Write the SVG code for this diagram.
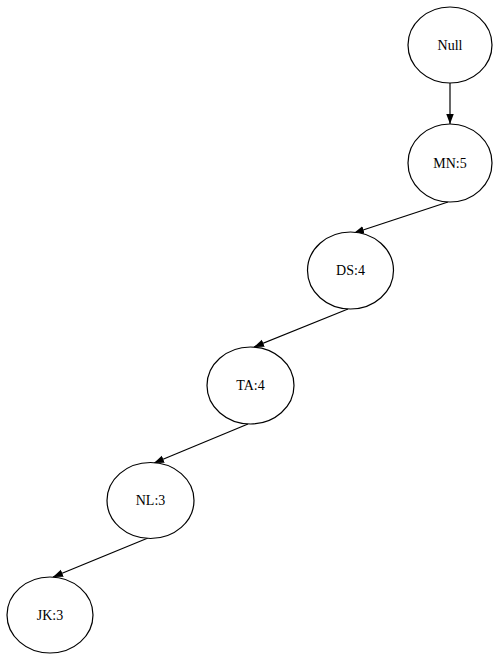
<svg xmlns="http://www.w3.org/2000/svg" width="493" height="654" viewBox="0 0 493 654">
<style>
.n ellipse{fill:#fff;stroke:#000;stroke-width:1.2}
.n text{font-size:14px;text-anchor:middle;fill:#000}
.e line{stroke:#000;stroke-width:1.2}
</style>
<defs>
<marker id="ah" markerUnits="userSpaceOnUse" markerWidth="11" markerHeight="8" refX="10" refY="3.75" orient="auto">
<path d="M0,0 L10,3.75 L0,7.5 z" fill="#000"/>
</marker>
</defs>
<rect width="493" height="654" fill="#fff"/>
<g id="edges" class="e">
<line x1="450" y1="83" x2="450" y2="124" marker-end="url(#ah)"/>
<line x1="448" y1="202" x2="354" y2="233" marker-end="url(#ah)"/>
<line x1="348" y1="309" x2="254" y2="347" marker-end="url(#ah)"/>
<line x1="248" y1="424" x2="154" y2="463" marker-end="url(#ah)"/>
<line x1="148" y1="538" x2="53" y2="577" marker-end="url(#ah)"/>
</g>
<g font-family="'Liberation Serif', 'Times New Roman', serif">
<g id="null" class="n"><ellipse cx="450" cy="45" rx="42" ry="38"/><text x="450" y="49.5">Null</text></g>
<g id="mn5" class="n"><ellipse cx="450" cy="163" rx="42" ry="39"/><text x="450" y="167.5">MN:5</text></g>
<g id="ds4" class="n"><ellipse cx="350.5" cy="270.5" rx="43" ry="38.5"/><text x="350.5" y="275">DS:4</text></g>
<g id="ta4" class="n"><ellipse cx="250.5" cy="385.5" rx="43.5" ry="38.5"/><text x="250.5" y="390">TA:4</text></g>
<g id="nl3" class="n"><ellipse cx="150.5" cy="500.5" rx="43.5" ry="38"/><text x="150.5" y="505">NL:3</text></g>
<g id="jk3" class="n"><ellipse cx="50" cy="615" rx="43" ry="38"/><text x="50" y="619.5">JK:3</text></g>
</g>
</svg>
